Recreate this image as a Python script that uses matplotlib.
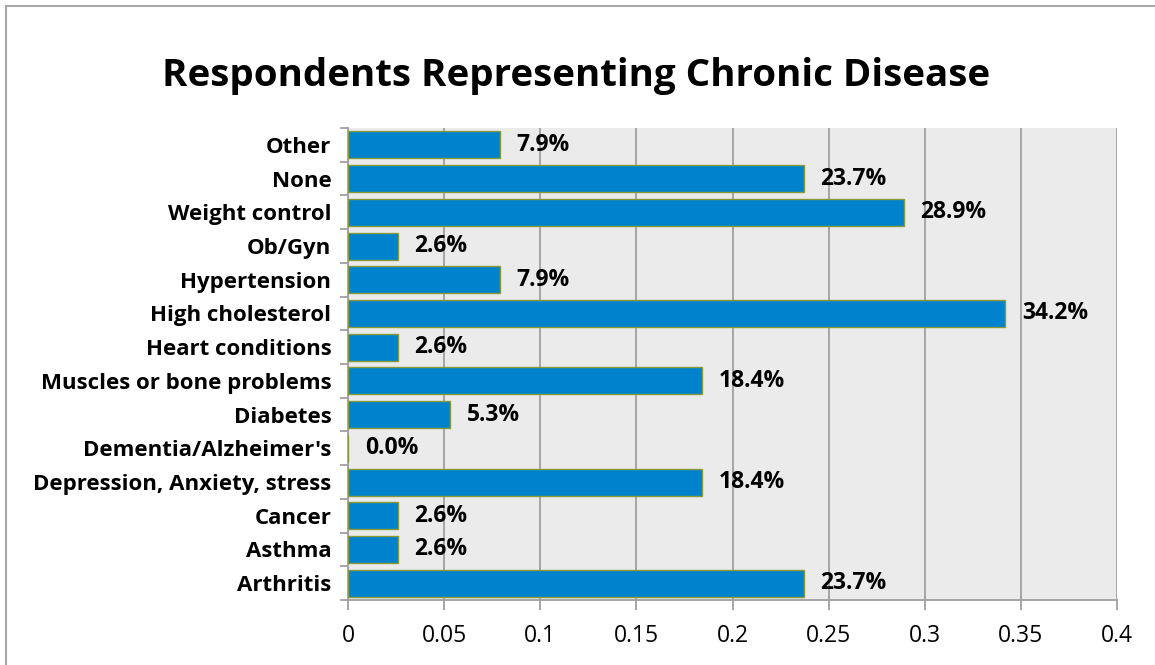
import numpy as np
import matplotlib
matplotlib.use("Agg")
import matplotlib.pyplot as plt
from matplotlib.ticker import FixedLocator

plt.rcParams['font.family'] = ['Open Sans', 'DejaVu Sans']

# categories from bottom to top
categories = ["Arthritis", "Asthma", "Cancer", "Depression, Anxiety, stress",
              "Dementia/Alzheimer's", "Diabetes", "Muscles or bone problems",
              "Heart conditions", "High cholesterol", "Hypertension", "Ob/Gyn",
              "Weight control", "None", "Other"]
shares = [0.237, 0.026, 0.026, 0.184, 0.0, 0.053, 0.184,
          0.026, 0.342, 0.079, 0.026, 0.289, 0.237, 0.079]
x_ticks = [0, 0.05, 0.1, 0.15, 0.2, 0.25, 0.3, 0.35, 0.4]
x_tick_labels = ["0", "0.05", "0.1", "0.15", "0.2", "0.25", "0.3", "0.35", "0.4"]

fig = plt.figure(figsize=(11.55, 6.65), dpi=100)

# outer chart frame (left and top edges visible)
fig.add_artist(plt.Line2D([0.0055, 0.0055], [0, 0.991], color='#a6a6a6', lw=1.5))
fig.add_artist(plt.Line2D([0.0055, 1], [0.991, 0.991], color='#a6a6a6', lw=1.5))

ax = fig.add_axes([0.3013, 0.0977, 0.6658, 0.7098])
ax.set_facecolor('#ebebeb')

y = np.arange(len(categories))
ax.barh(y, shares, height=0.8, color='#0083cc', edgecolor='#8a9a3a', linewidth=1.0, zorder=3)

for yi, v in zip(y, shares):
    ax.annotate(f"{v*100:.1f}%", (v, yi), xytext=(12, 0), textcoords='offset points',
                va='center', ha='left', fontsize=16.5, fontweight='bold', zorder=4)

ax.set_xlim(0, 0.4)
ax.set_ylim(-0.5, len(categories) - 0.5)
ax.set_xticks(x_ticks)
ax.set_xticklabels(x_tick_labels, fontsize=16.5)
ax.set_yticks(y)
ax.set_yticklabels(categories, fontsize=16, fontweight='bold')
ax.yaxis.set_minor_locator(FixedLocator(np.arange(-0.5, len(categories), 1.0)))
ax.tick_params(axis='y', which='major', length=0, pad=12)
ax.tick_params(axis='y', which='minor', length=6, width=1.3, color='#a0a0a0')
ax.tick_params(axis='x', length=7, width=1.3, color='#a0a0a0', pad=10)

ax.grid(axis='x', color='#a0a0a0', lw=1.3, zorder=1)
for s in ['top', 'right']:
    ax.spines[s].set_visible(False)
for s in ['left', 'bottom']:
    ax.spines[s].set_color('#a0a0a0')
    ax.spines[s].set_linewidth(1.3)

fig.text(0.499, 0.885, "Respondents Representing Chronic Disease", ha='center', va='center',
         fontsize=27.7, fontweight='bold')

fig.savefig("out.png", dpi=100)
